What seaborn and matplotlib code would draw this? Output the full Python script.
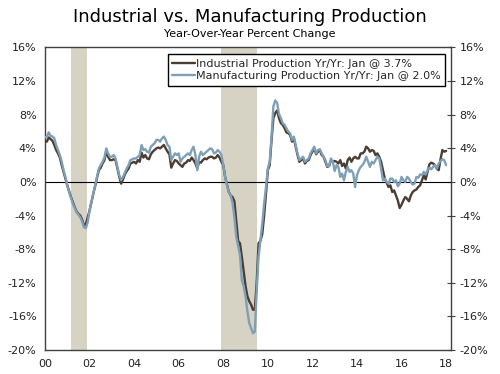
import numpy as np
import pandas as pd
import matplotlib
matplotlib.use('Agg')
import matplotlib.pyplot as plt
import seaborn as sns

# Yr/Yr % change, monthly, Jan 2000 - Jan 2018
industrial = [
    4.9, 4.8, 5.3, 5.1, 4.9, 4.4, 3.8, 3.4, 2.9, 2.0, 1.2, 0.4,            # 2000
    -0.4, -1.1, -1.8, -2.4, -3.0, -3.5, -3.8, -4.0, -4.5, -5.2, -5.0, -4.2,  # 2001
    -3.4, -2.4, -1.4, -0.5, 0.5, 1.4, 1.7, 2.2, 2.6, 3.6, 3.0, 2.6,        # 2002
    2.6, 2.7, 2.6, 1.6, 0.6, -0.2, 0.3, 0.9, 1.3, 1.6, 2.2, 2.3,           # 2003
    2.4, 2.2, 2.6, 2.4, 3.5, 2.9, 3.2, 2.8, 2.7, 3.3, 3.6, 3.8,            # 2004
    4.0, 4.1, 4.0, 4.2, 4.4, 4.0, 3.6, 3.3, 1.7, 2.2, 2.6, 2.5,            # 2005
    2.2, 2.0, 1.8, 2.2, 2.3, 2.6, 2.5, 2.9, 2.6, 2.2, 1.6, 2.4,            # 2006
    2.3, 2.6, 2.8, 2.7, 2.9, 3.0, 3.0, 2.8, 2.9, 3.2, 2.9, 2.4,            # 2007
    2.0, 0.6, -0.3, -1.2, -1.6, -1.8, -2.3, -4.6, -7.0, -7.3, -8.9, -10.6,  # 2008
    -12.4, -13.6, -14.2, -14.6, -15.2, -15.2, -12.0, -7.3, -7.0, -6.2, -4.0, -1.4,  # 2009
    1.4, 2.0, 5.0, 7.6, 8.2, 8.5, 7.6, 7.0, 6.8, 6.4, 5.9, 5.8,            # 2010
    5.6, 4.8, 5.2, 4.2, 3.2, 2.4, 2.6, 2.8, 2.2, 2.5, 2.6, 3.2,            # 2011
    3.6, 4.0, 3.3, 3.6, 3.8, 3.2, 3.0, 2.4, 1.8, 1.9, 2.6, 2.4,            # 2012
    2.5, 2.4, 2.2, 2.6, 1.9, 2.2, 1.6, 2.6, 2.9, 2.4, 2.8, 3.0,            # 2013
    2.8, 2.8, 3.4, 3.4, 3.6, 4.2, 4.0, 3.6, 3.8, 3.7, 3.2, 3.4,            # 2014
    3.0, 2.4, 1.4, 0.4, -0.1, -0.6, -0.4, -1.2, -1.0, -1.6, -2.2, -3.1,    # 2015
    -2.7, -2.2, -1.8, -2.0, -2.3, -1.6, -1.2, -1.0, -0.9, -0.6, -0.4, 0.2,  # 2016
    0.8, 0.3, 1.2, 2.1, 2.3, 2.2, 2.0, 1.6, 1.4, 2.7, 3.8, 3.6,            # 2017
    3.7,                                                                   # 2018
]
manufacturing = [
    5.3, 5.4, 5.9, 5.5, 5.4, 5.2, 4.4, 3.8, 3.2, 2.4, 1.4, 0.6,            # 2000
    -0.4, -1.2, -1.9, -2.6, -3.1, -3.6, -3.9, -4.2, -4.7, -5.4, -5.5, -4.8,  # 2001
    -3.4, -2.4, -1.4, -0.4, 0.6, 1.6, 2.0, 2.4, 2.9, 4.0, 3.4, 3.0,        # 2002
    3.0, 3.2, 2.8, 1.8, 0.8, 0.2, 0.6, 1.1, 1.6, 2.0, 2.6, 2.7,            # 2003
    2.8, 2.8, 3.0, 3.2, 4.4, 3.8, 3.9, 3.6, 3.5, 4.2, 4.4, 4.6,            # 2004
    5.0, 5.0, 4.8, 5.2, 5.4, 5.0, 4.4, 4.2, 2.6, 3.0, 3.4, 3.2,            # 2005
    3.4, 2.4, 2.8, 3.0, 3.2, 3.4, 3.2, 3.8, 4.2, 3.2, 1.4, 3.0,            # 2006
    3.6, 3.2, 3.4, 3.6, 3.8, 4.0, 3.9, 3.4, 3.5, 3.8, 3.6, 3.2,            # 2007
    2.0, 0.6, -0.4, -1.2, -1.6, -2.5, -4.2, -6.5, -7.6, -8.7, -11.7, -12.4,  # 2008
    -13.6, -15.4, -16.8, -17.4, -18.0, -17.8, -13.0, -8.9, -7.0, -5.0, -2.6, -0.6,  # 2009
    1.6, 2.4, 5.4, 9.0, 9.7, 9.4, 8.1, 7.6, 7.0, 6.8, 6.4, 6.0,            # 2010
    5.8, 5.0, 5.4, 4.4, 3.4, 2.6, 2.8, 3.0, 2.4, 2.6, 2.8, 3.4,            # 2011
    3.8, 4.2, 3.4, 3.8, 3.9, 3.4, 3.0, 2.6, 1.9, 1.9, 2.8, 2.4,            # 2012
    1.3, 2.0, 1.8, 0.6, 1.0, 0.2, 1.2, 1.8, 1.2, 1.4, 1.0, -0.6,           # 2013
    0.8, 1.4, 1.8, 2.0, 2.4, 3.0, 2.4, 1.8, 2.4, 2.2, 2.6, 3.0,            # 2014
    2.8, 1.6, 0.2, 0.4, 0.0, -0.2, 0.4, 0.4, 0.0, 0.2, -0.5, -0.2,         # 2015
    0.6, 0.2, 0.0, 0.6, 0.4, 0.0, -0.3, -0.2, 0.6, 0.5, 0.9, 0.8,          # 2016
    1.2, 0.9, 1.4, 1.7, 1.5, 1.8, 2.0, 1.6, 2.2, 2.5, 2.7, 2.6,            # 2017
    2.0,                                                                   # 2018
]
# recessions (start, end) in fractional years
recessions = [(2001 + 2 / 12, 2001 + 10.5 / 12), (2007 + 11 / 12, 2009 + 6 / 12)]
ind_label = 'Industrial Production Yr/Yr: Jan @ 3.7%'
mfg_label = 'Manufacturing Production Yr/Yr: Jan @ 2.0%'

n = len(industrial)
t = 2000 + np.arange(n) / 12
df = pd.DataFrame({'t': np.concatenate([t, t]),
                   'val': industrial + manufacturing,
                   'series': [ind_label] * n + [mfg_label] * n})

sns.set_style('white')
plt.rcParams['font.family'] = ['DejaVu Sans']

fig = plt.figure(figsize=(5, 3.74), dpi=100)
ax = fig.add_axes([0.09, 0.064, 0.812, 0.809])

for a, b in recessions:
    ax.axvspan(a, b, color='#d6d2c4', lw=0, zorder=0)
ax.axhline(0, color='black', lw=0.8, zorder=1)

sns.lineplot(data=df, x='t', y='val', hue='series',
             palette={ind_label: '#4a3d34', mfg_label: '#7f9fb6'},
             linewidth=1.7, ax=ax, zorder=3)

ax.set_xlim(2000, 2018.22)
ax.set_ylim(-20, 16)
ax.set_xticks(np.arange(2000, 2019, 1), minor=True)
ax.set_xticks(np.arange(2000, 2019, 2))
ax.set_xticklabels([f'{y % 100:02d}' for y in range(2000, 2019, 2)])
yt = np.arange(-20, 17, 4)
ax.set_yticks(yt)
ax.set_yticklabels([f'{v}%' for v in yt])
ax.set_xlabel('')
ax.set_ylabel('')

for s in ax.spines.values():
    s.set_color('#404040')
    s.set_linewidth(1)
ax.tick_params(axis='both', which='both', direction='inout', length=6,
               color='#404040', labelsize=8, labelcolor='#222222')
ax.tick_params(axis='x', which='minor', length=6)
ax.tick_params(axis='y', right=True, labelright=True, pad=3)

leg = ax.legend(loc='upper right', bbox_to_anchor=(0.985, 0.977), fontsize=8,
                frameon=True, fancybox=False, framealpha=1, edgecolor='black',
                handlelength=2.0, handletextpad=0.1, borderpad=0.4,
                labelspacing=0.2, borderaxespad=0)
leg.get_frame().set_linewidth(1)
leg.set_zorder(5)

fig.text(0.5, 0.955, 'Industrial vs. Manufacturing Production', ha='center',
         va='center', fontsize=13, color='black')
fig.text(0.5, 0.909, 'Year-Over-Year Percent Change', ha='center',
         va='center', fontsize=8, color='black')

fig.savefig('out.png', dpi=100)
